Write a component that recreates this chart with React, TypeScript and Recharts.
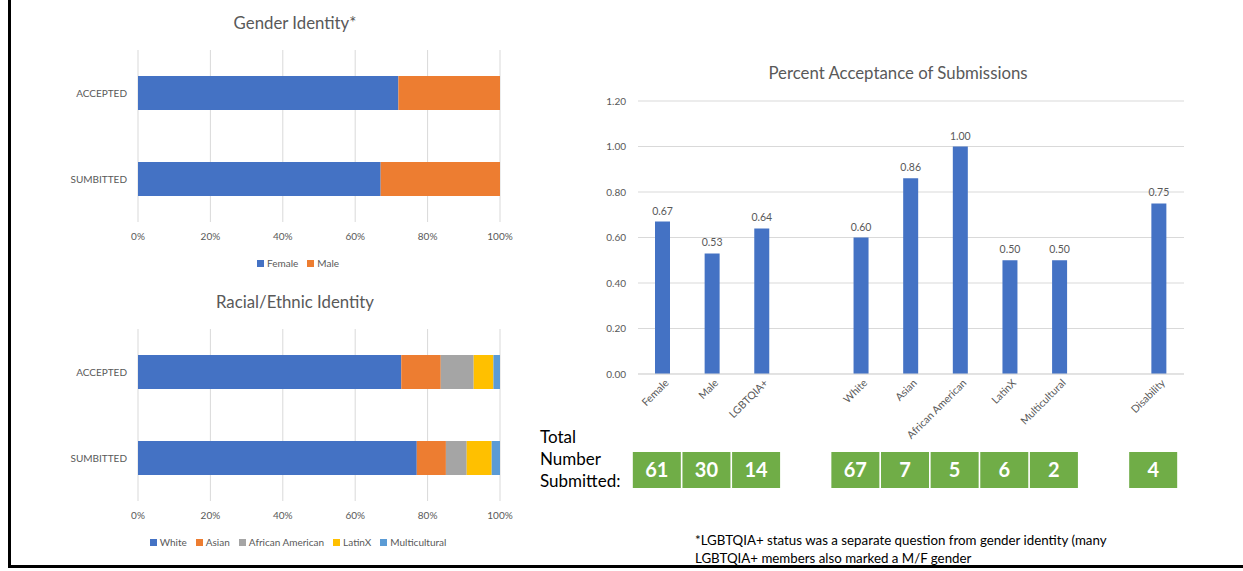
import React from "react";
import {
  BarChart,
  Bar,
  XAxis,
  YAxis,
  CartesianGrid,
  LabelList,
  ReferenceLine,
} from "recharts";

// ---------- data ----------
const stackCategories = ["ACCEPTED", "SUMBITTED"];
const genderFemale = [41, 61];
const genderMale = [16, 30];

const raceWhite = [40, 67];
const raceAsian = [6, 7];
const raceAfrican = [5, 5];
const raceLatin = [3, 6];
const raceMulti = [1, 2];

const pctTicks = [0, 0.2, 0.4, 0.6, 0.8, 1];
const accTicks = [0, 0.2, 0.4, 0.6, 0.8, 1.0, 1.2];

const accCategories = [
  "Female",
  "Male",
  "LGBTQIA+",
  "",
  "White",
  "Asian",
  "African American",
  "LatinX",
  "Multicultural",
  "",
  "Disability",
];
const accValues = [0.67, 0.53, 0.64, null, 0.6, 0.86, 1.0, 0.5, 0.5, null, 0.75];
const submittedCounts = [61, 30, 14, null, 67, 7, 5, 6, 2, null, 4];

// ---------- styles ----------
const FONT = "Lato, 'Open Sans', sans-serif";
const GRAY = "#595959";
const GRID = "#D9D9D9";
const BLUE = "#4472C4";
const ORANGE = "#ED7D31";
const LGRAY = "#A5A5A5";
const GOLD = "#FFC000";
const LBLUE = "#5B9BD5";
const GREEN = "#70AD47";

const genderData = stackCategories.map((c, i) => ({
  name: c,
  Female: genderFemale[i],
  Male: genderMale[i],
}));

const raceData = stackCategories.map((c, i) => ({
  name: c,
  White: raceWhite[i],
  Asian: raceAsian[i],
  "African American": raceAfrican[i],
  LatinX: raceLatin[i],
  Multicultural: raceMulti[i],
}));

const accData = accCategories.map((c, i) => ({
  name: c,
  value: accValues[i],
  count: submittedCounts[i],
}));

const pctFmt = (v: number) => `${Math.round(v * 100)}%`;

const titleStyle = (left: number, top: number, width: number): React.CSSProperties => ({
  position: "absolute",
  left,
  top,
  width,
  textAlign: "center",
  fontFamily: FONT,
  fontSize: 16.8,
  color: GRAY,
  lineHeight: "20px",
});

const RotTick = (props: any) => {
  const { x, y, payload } = props;
  if (!payload || !payload.value) return null;
  const ax = x + 4;
  const ay = y + 3;
  return (
    <text
      x={ax}
      y={ay}
      transform={`rotate(-45, ${ax}, ${ay})`}
      textAnchor="end"
      dy="0.35em"
      fontSize={10.5}
      fontFamily={FONT}
      fill={GRAY}
    >
      {payload.value}
    </text>
  );
};

const CountTick = (props: any) => {
  const { x, y, index } = props;
  const c = submittedCounts[index];
  if (c === null || c === undefined) return null;
  const cx = x - 6;
  return (
    <g>
      <rect x={cx - 24} y={y} width={48} height={36} fill={GREEN} />
      <text
        x={cx}
        y={y + 18}
        dy="0.36em"
        textAnchor="middle"
        fontSize={20}
        fontWeight={700}
        fontFamily={FONT}
        fill="#FFFFFF"
      >
        {c}
      </text>
    </g>
  );
};

function HtmlLegend({ keys, colors, top, center }: any) {
  return (
    <div
      style={{
        position: "absolute",
        top,
        left: center - 300,
        width: 600,
        display: "flex",
        justifyContent: "center",
        fontFamily: FONT,
        fontSize: 10,
        color: GRAY,
        lineHeight: "14px",
      }}
    >
      {keys.map((k: string, i: number) => (
        <span key={k} style={{ display: "inline-flex", alignItems: "center", marginRight: i < keys.length - 1 ? 9 : 0 }}>
          <span style={{ display: "inline-block", width: 7, height: 7, background: colors[i], marginRight: 3 }} />
          {k}
        </span>
      ))}
    </div>
  );
}

// background layer draws grid + axis labels; foreground layer draws the bars
function StackChart({ data, keys, colors, top }: any) {
  const common = {
    width: 540,
    height: 250,
    data,
    layout: "vertical" as const,
    stackOffset: "expand" as const,
    margin: { top: 50, right: 40, left: 0, bottom: 0 },
  };
  const axes = (showTicks: boolean) => [
    <XAxis
      key="x"
      type="number"
      domain={[0, 1]}
      ticks={pctTicks}
      tickFormatter={pctFmt}
      axisLine={false}
      tickLine={false}
      tickSize={0}
      tickMargin={11}
      height={28}
      tick={showTicks ? { fontSize: 10, fill: GRAY, fontFamily: FONT } : false}
    />,
    <YAxis
      key="y"
      type="category"
      dataKey="name"
      width={138}
      axisLine={false}
      tickLine={false}
      tickSize={0}
      tickMargin={11}
      tick={showTicks ? { fontSize: 10, fill: GRAY, fontFamily: FONT } : false}
    />,
  ];
  return (
    <>
      <div style={{ position: "absolute", left: 0, top, width: 540, height: 250 }}>
        <BarChart {...common}>
          {axes(true)}
          {pctTicks.map((t) => (
            <ReferenceLine key={t} x={t} stroke={GRID} strokeWidth={1} />
          ))}
          <Bar dataKey={keys[0]} stackId="a" fill="none" isAnimationActive={false} barSize={34} />
        </BarChart>
      </div>
      <div style={{ position: "absolute", left: 0, top, width: 540, height: 250 }}>
        <BarChart {...common}>
          {axes(false)}
          {keys.map((k: string, i: number) => (
            <Bar
              key={k}
              dataKey={k}
              stackId="a"
              fill={colors[i]}
              barSize={34}
              isAnimationActive={false}
            />
          ))}
        </BarChart>
      </div>
    </>
  );
}

export default function App() {
  return (
    <div
      style={{
        position: "absolute",
        left: 0,
        top: 0,
        width: 1243,
        height: 571,
        background: "#fff",
        overflow: "hidden",
        fontFamily: FONT,
      }}
    >
      <div
        style={{
          position: "absolute",
          left: 8,
          top: -5,
          width: 1240,
          height: 573,
          borderLeft: "3px solid #000",
          borderBottom: "3px solid #000",
          boxSizing: "border-box",
        }}
      />

      <div style={titleStyle(145, 13, 300)}>Gender Identity*</div>
      <StackChart data={genderData} keys={["Female", "Male"]} colors={[BLUE, ORANGE]} top={0} />
      <HtmlLegend keys={["Female", "Male"]} colors={[BLUE, ORANGE]} top={256} center={298} />

      <div style={titleStyle(145, 292, 300)}>Racial/Ethnic Identity</div>
      <StackChart
        data={raceData}
        keys={["White", "Asian", "African American", "LatinX", "Multicultural"]}
        colors={[BLUE, ORANGE, LGRAY, GOLD, LBLUE]}
        top={279}
      />
      <HtmlLegend
        keys={["White", "Asian", "African American", "LatinX", "Multicultural"]}
        colors={[BLUE, ORANGE, LGRAY, GOLD, LBLUE]}
        top={535}
        center={298}
      />

      <div style={titleStyle(748, 63, 300)}>Percent Acceptance of Submissions</div>
      <div style={{ position: "absolute", left: 560, top: 85, width: 640, height: 407 }}>
        <BarChart
          width={640}
          height={407}
          data={accData}
          margin={{ top: 16, right: 16, left: 0, bottom: 0 }}
        >
          <CartesianGrid vertical={false} stroke={GRID} />
          <YAxis
            domain={[0, 1.2]}
            ticks={accTicks}
            tickFormatter={(v: number) => v.toFixed(2)}
            width={78}
            axisLine={false}
            tickLine={false}
            tickSize={0}
            tickMargin={12}
            tick={{ fontSize: 10, fill: GRAY, fontFamily: FONT }}
          />
          <XAxis
            dataKey="name"
            interval={0}
            height={78}
            axisLine={{ stroke: GRID }}
            tickLine={false}
            tickSize={0}
            tickMargin={4}
            tick={<RotTick />}
          />
          <XAxis
            xAxisId="count"
            dataKey="name"
            interval={0}
            height={40}
            axisLine={false}
            tickLine={false}
            tickSize={0}
            tickMargin={0}
            tick={<CountTick />}
          />
          <Bar dataKey="value" fill={BLUE} barSize={15} isAnimationActive={false}>
            <LabelList
              dataKey="value"
              position="top"
              offset={7}
              formatter={(v: any) => (v === null || v === undefined ? "" : Number(v).toFixed(2))}
              style={{ fontSize: 10.5, fill: GRAY, fontFamily: FONT }}
            />
          </Bar>
        </BarChart>
      </div>

      <div
        style={{
          position: "absolute",
          left: 540,
          top: 426,
          fontSize: 17,
          lineHeight: "22px",
          color: "#000",
          fontFamily: FONT,
        }}
      >
        Total
        <br />
        Number
        <br />
        Submitted:
      </div>

      <div
        style={{
          position: "absolute",
          left: 695,
          top: 531,
          fontSize: 13.3,
          lineHeight: "18px",
          color: "#000",
          fontFamily: FONT,
          whiteSpace: "nowrap",
        }}
      >
        *LGBTQIA+ status was a separate question from gender identity (many
        <br />
        LGBTQIA+ members also marked a M/F gender
      </div>
    </div>
  );
}
